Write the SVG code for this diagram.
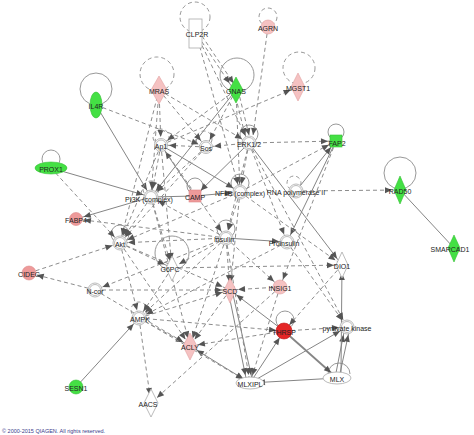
<svg xmlns="http://www.w3.org/2000/svg" width="474" height="435" viewBox="0 0 474 435">
<style>
.s{stroke:#858585;stroke-width:1;fill:none}
.d{stroke:#8c8c8c;stroke-width:1;fill:none;stroke-dasharray:4,3}
.a{marker-end:url(#ah)}
.b{marker-start:url(#ahs)}
.lp{stroke:#999;stroke-width:1;fill:none}
.ld{stroke:#999;stroke-width:1;fill:none;stroke-dasharray:4,3}
.cx{fill:#fff;stroke:#aaa;stroke-width:0.8}
.pk{fill:#f5c2c2;stroke:#e0a0a0;stroke-width:0.6}
.pk2{fill:#ee9a9a;stroke:#d88;stroke-width:0.6}
.gr{fill:#44e044;stroke:#36c036;stroke-width:0.6}
.wh{fill:#fff;stroke:#aaa;stroke-width:0.8}
text{font-family:"Liberation Sans",Arial,sans-serif;font-size:7px;fill:#222;text-anchor:middle;dominant-baseline:central}
</style>
<defs>
<marker id="ah" markerUnits="userSpaceOnUse" markerWidth="7" markerHeight="6" viewBox="0 0 7 6" refX="15" refY="3" orient="auto" style="overflow:visible"><path d="M0,0 L7,3 L0,6 z" fill="#555"/></marker>
<marker id="ahs" markerUnits="userSpaceOnUse" markerWidth="7" markerHeight="6" viewBox="0 0 7 6" refX="15" refY="3" orient="auto-start-reverse" style="overflow:visible"><path d="M0,0 L7,3 L0,6 z" fill="#555"/></marker>
</defs>
<rect width="474" height="435" fill="#fff"/>
<g id="connectors">
<circle class="ld" cx="195" cy="17" r="15"/>
<circle class="ld" cx="268" cy="17" r="9"/>
<circle class="ld" cx="157" cy="74" r="17"/>
<circle class="lp" cx="237" cy="75" r="17"/>
<circle class="ld" cx="299" cy="68" r="16"/>
<circle class="lp" cx="96" cy="89" r="16"/>
<circle class="lp" cx="51" cy="159" r="9"/>
<circle class="lp" cx="336" cy="132" r="8"/>
<circle class="lp" cx="400" cy="173" r="16"/>
<circle class="ld" cx="294" cy="183" r="7"/>
<circle class="ld" cx="161" cy="137" r="8"/>
<circle class="ld" cx="204" cy="139" r="8"/>
<circle class="lp" cx="249" cy="134" r="9"/>
<circle class="ld" cx="151" cy="189" r="8"/>
<circle class="lp" cx="195" cy="186" r="8"/>
<circle class="lp" cx="240" cy="183" r="9"/>
<circle class="lp" cx="120" cy="234" r="9"/>
<circle class="lp" cx="226" cy="229" r="9"/>
<circle class="lp" cx="172" cy="253" r="17"/>
<circle class="ld" cx="139" cy="310" r="8"/>
<circle class="lp" cx="285" cy="320" r="9"/>
<path class="lp" d="M328,374 A11,11 0 1 1 350,374"/>
<line class="s a" x1="96" y1="105" x2="151" y2="197"/>
<line class="s a" x1="51" y1="168" x2="151" y2="197"/>
<line class="s a" x1="151" y1="197" x2="76" y2="219"/>
<line class="s a" x1="76" y1="387" x2="139" y2="318"/>
<line class="s" x1="400" y1="190" x2="454" y2="248"/>
<line class="s a" x1="296" y1="191" x2="336" y2="141"/>
<line class="s a" x1="249" y1="143" x2="342" y2="265"/>
<line class="s a" x1="337" y1="378" x2="250" y2="383"/>
<line class="s a" x1="335" y1="378" x2="345" y2="327"/>
<line class="s a" x1="339" y1="378" x2="350" y2="327"/>
<line class="s a" x1="284" y1="331" x2="337" y2="378" style="stroke-width:1.8"/>
<line class="s a" x1="250" y1="383" x2="284" y2="331"/>
<line class="s a" x1="228" y1="290" x2="247" y2="383"/>
<line class="s a" x1="232" y1="290" x2="253" y2="383"/>
<line class="s a b" x1="190" y1="346" x2="250" y2="383"/>
<line class="s a" x1="284" y1="331" x2="230" y2="290"/>
<line class="s a" x1="250" y1="383" x2="347" y2="327"/>
<line class="s a" x1="341" y1="372" x2="342" y2="265"/>
<line class="s" x1="151" y1="197" x2="195" y2="196"/>
<line class="s a" x1="195" y1="196" x2="240" y2="192"/>
<line class="s a" x1="226" y1="238" x2="287" y2="242"/>
<line class="s a" x1="195" y1="196" x2="161" y2="145"/>
<line class="s a" x1="161" y1="145" x2="240" y2="192"/>
<line class="s a" x1="249" y1="143" x2="195" y2="196"/>
<line class="s a" x1="236" y1="90" x2="151" y2="197"/>
<line class="s a" x1="336" y1="141" x2="287" y2="242"/>
<line class="d a" x1="198" y1="36" x2="234" y2="90"/>
<line class="d a" x1="202" y1="36" x2="238" y2="90"/>
<line class="d a" x1="196" y1="33" x2="249" y2="143"/>
<line class="d a" x1="196" y1="33" x2="240" y2="192"/>
<line class="d a" x1="268" y1="27" x2="252" y2="143"/>
<line class="d a" x1="234" y1="90" x2="247" y2="143"/>
<line class="d a" x1="238" y1="90" x2="251" y2="143"/>
<line class="d a" x1="236" y1="90" x2="240" y2="192"/>
<line class="d a" x1="236" y1="90" x2="161" y2="145"/>
<line class="d a" x1="236" y1="90" x2="206" y2="147"/>
<line class="d a" x1="161" y1="145" x2="298" y2="87"/>
<line class="d a" x1="159" y1="90" x2="249" y2="143"/>
<line class="d a" x1="159" y1="90" x2="206" y2="147"/>
<line class="d a" x1="159" y1="90" x2="161" y2="145"/>
<line class="d a" x1="159" y1="90" x2="151" y2="197"/>
<line class="d a" x1="159" y1="90" x2="120" y2="243"/>
<line class="d a" x1="96" y1="105" x2="206" y2="147"/>
<line class="d a" x1="249" y1="143" x2="206" y2="147"/>
<line class="d a" x1="249" y1="143" x2="336" y2="141"/>
<line class="d a" x1="249" y1="143" x2="240" y2="192"/>
<line class="d a" x1="249" y1="143" x2="226" y2="238"/>
<line class="d a" x1="249" y1="143" x2="287" y2="242"/>
<line class="d a" x1="249" y1="143" x2="347" y2="327"/>
<line class="d a" x1="206" y1="147" x2="151" y2="197"/>
<line class="d a" x1="206" y1="147" x2="120" y2="243"/>
<line class="d a" x1="206" y1="147" x2="161" y2="145"/>
<line class="d a" x1="161" y1="145" x2="151" y2="197"/>
<line class="d a" x1="161" y1="145" x2="120" y2="243"/>
<line class="d a" x1="161" y1="145" x2="172" y2="268"/>
<line class="d a" x1="161" y1="145" x2="226" y2="238"/>
<line class="d a" x1="240" y1="192" x2="226" y2="238"/>
<line class="d a" x1="240" y1="192" x2="120" y2="243"/>
<line class="d a" x1="240" y1="192" x2="230" y2="290"/>
<line class="d a" x1="240" y1="192" x2="336" y2="141"/>
<line class="d a" x1="240" y1="192" x2="342" y2="265"/>
<line class="d a" x1="296" y1="191" x2="400" y2="190"/>
<line class="d a" x1="336" y1="141" x2="280" y2="287"/>
<line class="d a" x1="226" y1="238" x2="120" y2="243"/>
<line class="d a" x1="226" y1="238" x2="151" y2="197"/>
<line class="d a" x1="226" y1="238" x2="230" y2="290"/>
<line class="d a" x1="226" y1="238" x2="172" y2="268"/>
<line class="d a" x1="226" y1="238" x2="139" y2="318"/>
<line class="d a" x1="226" y1="238" x2="190" y2="346"/>
<line class="d a" x1="226" y1="238" x2="250" y2="383"/>
<line class="d a" x1="226" y1="238" x2="95" y2="290"/>
<line class="d a" x1="226" y1="238" x2="280" y2="287"/>
<line class="d a" x1="226" y1="238" x2="76" y2="219"/>
<line class="d a" x1="287" y1="242" x2="347" y2="327"/>
<line class="d a" x1="287" y1="242" x2="139" y2="318"/>
<line class="d a" x1="51" y1="168" x2="120" y2="243"/>
<line class="d a" x1="29" y1="273" x2="120" y2="243"/>
<line class="d a" x1="95" y1="290" x2="29" y2="273"/>
<line class="d a" x1="120" y1="243" x2="172" y2="268"/>
<line class="d a" x1="120" y1="243" x2="139" y2="318"/>
<line class="d a" x1="120" y1="243" x2="190" y2="346"/>
<line class="d a" x1="120" y1="243" x2="230" y2="290"/>
<line class="d a" x1="151" y1="197" x2="120" y2="243"/>
<line class="d a" x1="151" y1="197" x2="172" y2="268"/>
<line class="d a" x1="151" y1="197" x2="190" y2="346"/>
<line class="d a" x1="95" y1="290" x2="230" y2="290"/>
<line class="d a" x1="95" y1="290" x2="190" y2="346"/>
<line class="d a" x1="139" y1="318" x2="151" y2="403"/>
<line class="d a" x1="139" y1="318" x2="190" y2="346"/>
<line class="d a" x1="139" y1="318" x2="284" y2="331"/>
<line class="d a" x1="139" y1="318" x2="230" y2="290"/>
<line class="d a" x1="139" y1="318" x2="250" y2="383"/>
<line class="d a" x1="172" y1="268" x2="342" y2="265"/>
<line class="d a" x1="172" y1="268" x2="139" y2="318"/>
<line class="d a" x1="280" y1="287" x2="230" y2="290"/>
<line class="d a" x1="280" y1="287" x2="151" y2="403"/>
<line class="d a" x1="280" y1="287" x2="250" y2="383"/>
<line class="d a" x1="284" y1="331" x2="190" y2="346"/>
<line class="d a" x1="284" y1="331" x2="347" y2="327"/>
<line class="d a" x1="342" y1="265" x2="284" y2="331"/>
<line class="d a" x1="230" y1="290" x2="190" y2="346"/>
</g>
<g id="CLP2R"><rect class="wh" x="189" y="19" width="13" height="29"/><text x="197" y="34">CLP2R</text></g>
<g id="AGRN"><circle class="pk" cx="268" cy="27" r="7"/><text x="268" y="28">AGRN</text></g>
<g id="MRAS"><path class="pk" d="M159,76 L167,90 L159,104 L151,90 z"/><text x="159" y="91">MRAS</text></g>
<g id="GNAS"><path class="gr" d="M236,77 L243,90 L236,103 L229,90 z"/><text x="236" y="91">GNAS</text></g>
<g id="MGST1"><path class="pk" d="M298,73 L305,87 L298,101 L291,87 z"/><text x="298" y="88">MGST1</text></g>
<g id="IL4R"><ellipse class="gr" cx="96" cy="105" rx="6" ry="13"/><text x="96" y="106">IL4R</text></g>
<g id="PROX1"><ellipse class="gr" cx="51" cy="168" rx="16" ry="6"/><text x="51" y="169">PROX1</text></g>
<g id="FAP2"><rect class="gr" x="330" y="135" width="12" height="12"/><text x="337" y="143">FAP2</text></g>
<g id="RAD50"><path class="gr" d="M400,176 L406,190 L400,204 L394,190 z"/><text x="400" y="191">RAD50</text></g>
<g id="SMARCAD1"><path class="gr" d="M454,235 L460,248 L454,262 L448,248 z"/><text x="450" y="249">SMARCAD1</text></g>
<g id="Ap1"><circle class="cx" cx="161" cy="145" r="6.5"/><circle class="cx" cx="161" cy="145" r="5"/><text x="161" y="146">Ap1</text></g>
<g id="Sos"><circle class="cx" cx="206" cy="147" r="6.5"/><circle class="cx" cx="206" cy="147" r="5"/><text x="206" y="148">Sos</text></g>
<g id="ERK12"><circle class="cx" cx="249" cy="143" r="7"/><circle class="cx" cx="249" cy="143" r="5.5"/><text x="249" y="144">ERK1/2</text></g>
<g id="PI3K"><circle class="cx" cx="151" cy="197" r="7"/><circle class="cx" cx="151" cy="197" r="5.5"/><text x="149" y="199">PI3K (complex)</text></g>
<g id="CAMP"><rect class="pk2" x="189" y="190" width="12" height="12"/><text x="195" y="197">CAMP</text></g>
<g id="NFkB"><circle class="cx" cx="240" cy="192" r="7"/><circle class="cx" cx="240" cy="192" r="5.5"/><text x="240" y="193">NFkB (complex)</text></g>
<g id="RNApol"><circle class="cx" cx="296" cy="191" r="7"/><circle class="cx" cx="296" cy="191" r="5.5"/><text x="296" y="192">RNA polymerase II</text></g>
<g id="FABP4"><circle class="pk2" cx="76" cy="219" r="6.5"/><text x="76" y="220">FABP4</text></g>
<g id="Akt"><circle class="cx" cx="120" cy="243" r="7"/><circle class="cx" cx="120" cy="243" r="5.5"/><text x="120" y="244">Akt</text></g>
<g id="Insulin"><circle class="cx" cx="226" cy="238" r="7"/><circle class="cx" cx="226" cy="238" r="5.5"/><text x="224" y="239">Insulin</text></g>
<g id="Proinsulin"><circle class="cx" cx="287" cy="242" r="7"/><circle class="cx" cx="287" cy="242" r="5.5"/><text x="284" y="243">Proinsulin</text></g>
<g id="DIO1"><path class="wh" d="M342,252 L348,265 L342,278 L336,265 z"/><text x="342" y="266">DIO1</text></g>
<g id="G6PC"><path class="wh" d="M172,256 L178,268 L172,281 L166,268 z"/><text x="170" y="269">G6PC</text></g>
<g id="CIDEC"><circle class="pk2" cx="29" cy="273" r="7"/><text x="29" y="274">CIDEC</text></g>
<g id="Ncor"><circle class="cx" cx="95" cy="290" r="7"/><circle class="cx" cx="95" cy="290" r="5.5"/><text x="95" y="291">N-cor</text></g>
<g id="SCD"><path class="pk" d="M230,278 L236,290 L230,303 L224,290 z"/><text x="230" y="291">SCD</text></g>
<g id="INSIG1"><circle class="pk" cx="280" cy="287" r="7"/><text x="280" y="288">INSIG1</text></g>
<g id="AMPK"><circle class="cx" cx="139" cy="318" r="7"/><circle class="cx" cx="139" cy="318" r="5.5"/><text x="140" y="319">AMPK</text></g>
<g id="ACLY"><path class="pk" d="M190,333 L197,346 L190,360 L183,346 z"/><text x="190" y="347">ACLY</text></g>
<g id="THRSP"><circle cx="284" cy="331" r="8" fill="#e42626" stroke="#c01818" stroke-width="0.6"/><text x="284" y="332">THRSP</text></g>
<g id="pyruvate_kinase"><circle class="cx" cx="347" cy="327" r="7"/><circle class="cx" cx="347" cy="327" r="5.5"/><text x="347" y="328">pyruvate kinase</text></g>
<g id="MLXIPL"><ellipse class="wh" cx="250" cy="383" rx="14" ry="6"/><text x="250" y="384">MLXIPL</text></g>
<g id="MLX"><ellipse class="wh" cx="337" cy="378" rx="14" ry="6"/><text x="337" y="379">MLX</text></g>
<g id="SESN1"><circle class="gr" cx="76" cy="387" r="7"/><text x="76" y="388">SESN1</text></g>
<g id="AACS"><path class="wh" d="M151,389 L158,403 L151,417 L144,403 z"/><text x="148" y="404">AACS</text></g>
<text x="2" y="431" style="font-size:5.5px;text-anchor:start;fill:#3a3a8a">© 2000-2015 QIAGEN. All rights reserved.</text>
</svg>
